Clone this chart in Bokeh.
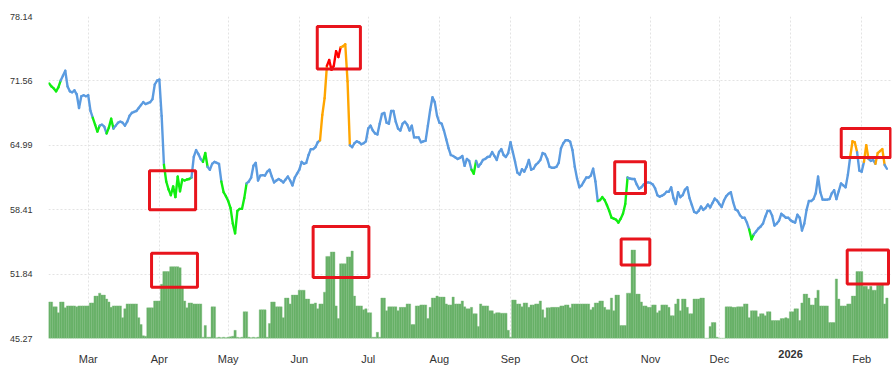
import pandas as pd
from bokeh.plotting import figure
from bokeh.models import Range1d, FixedTicker, Label, PrintfTickFormatter
from bokeh.embed import file_html
from bokeh.resources import INLINE

# ---------------- data ----------------
start_date = "2025-02-12"

price = [
    71.3, 71.0, 70.8, 70.5, 70.9, 71.6, 72.1, 72.6, 71.0, 70.5,
    70.4, 70.6, 70.2, 68.8, 70.0, 70.1, 70.0, 70.1, 68.5, 67.8,
    67.1, 66.4, 67.0, 67.1, 66.9, 66.2, 66.8, 67.7, 66.7, 67.0,
    67.3, 67.4, 67.3, 67.0, 67.4, 68.0, 68.3, 68.4, 68.5, 68.8,
    69.1, 69.4, 69.2, 69.3, 69.4, 69.7, 71.2, 71.6, 71.7, 68.0,
    63.0, 61.3, 60.5, 59.9, 60.8, 59.7, 61.8, 60.3, 61.5, 61.4,
    61.5, 61.55, 61.7, 63.8, 64.5, 64.1, 63.6, 63.3, 64.2, 62.8,
    62.5, 63.1, 63.3, 63.2, 63.1, 61.3, 60.2, 59.8, 59.3, 58.6,
    57.0, 56.0, 58.3, 58.5, 58.5, 59.6, 61.1, 61.3, 61.7, 62.9,
    63.2, 61.4, 61.9, 61.95, 61.9, 62.3, 62.5, 61.8, 61.2, 61.4,
    61.55, 61.4, 61.2, 61.5, 61.8, 61.4, 60.9, 61.7, 62.1, 62.5,
    63.3, 63.1, 63.2, 64.0, 64.6, 64.6, 64.8, 65.3, 65.5, 68.1,
    69.8, 73.1, 73.7, 72.7, 73.1, 74.6, 74.0, 75.0, 75.1, 75.3,
    71.5, 65.0, 64.8, 65.2, 65.4, 65.3, 65.1, 65.2, 65.4, 66.7,
    67.0, 66.5, 66.2, 66.1, 67.2, 68.2, 68.3, 67.3, 67.2, 68.5,
    68.5, 67.4, 66.7, 66.5, 67.2, 67.4, 67.1, 66.5, 67.0, 65.8,
    65.8, 65.8, 65.3, 65.4, 65.45, 67.0, 68.6, 69.9, 69.4, 68.0,
    67.3, 67.2, 66.5, 65.6, 64.7, 64.0, 63.9, 63.75, 63.6, 63.7,
    63.9, 62.9, 63.6, 63.4, 62.5, 62.1, 63.4, 62.8, 63.1, 63.5,
    63.6, 63.8, 63.85, 64.3, 63.9, 63.5, 64.3, 64.6, 64.0, 63.8,
    64.2, 65.3, 64.3, 63.3, 62.2, 62.0, 62.55, 62.3, 62.8, 63.5,
    62.5, 62.6, 63.0, 63.2, 63.5, 64.2, 64.1, 63.6, 62.8, 62.7,
    62.7, 62.8, 63.2, 64.7, 65.2, 65.5, 65.5, 65.35, 64.5, 62.8,
    61.6, 60.7, 60.9, 61.3, 61.7, 61.7, 61.9, 62.6, 61.3, 59.3,
    59.4, 59.7, 59.4, 58.9, 58.3, 57.6, 57.5, 57.4, 57.1, 57.5,
    58.0, 59.0, 61.7, 61.6, 61.55, 61.55, 61.0, 60.55, 60.7, 61.0,
    61.15, 61.2, 61.15, 61.0, 60.6, 59.9, 59.75, 59.85, 60.0, 60.25,
    60.25, 60.7, 59.6, 59.0, 60.2, 59.7, 59.9, 60.45, 60.7, 59.6,
    58.9, 58.2, 58.08, 58.3, 58.75, 58.4, 58.6, 58.95, 58.65, 59.1,
    59.55, 59.35, 59.0, 58.7, 59.35, 59.8, 60.05, 60.2, 59.2, 58.45,
    58.3, 57.85, 57.6, 57.6, 57.1, 56.4, 55.4, 55.9, 56.2, 56.5,
    56.7, 57.0, 57.7, 58.3, 58.3, 57.8, 56.8, 57.0, 57.3, 58.0,
    57.8, 57.6, 57.6, 57.35, 57.2, 57.1, 57.9, 57.6, 56.3, 57.0,
    58.4, 59.3, 59.3, 59.5, 60.1, 61.8, 60.2, 59.45, 59.43, 59.45,
    59.5, 60.1, 60.4, 59.5, 60.3, 61.1, 60.9, 60.7, 62.0, 63.8,
    65.4, 65.3, 64.3, 62.4, 62.3, 63.3, 65.0, 63.6, 63.4, 63.5,
    63.1, 64.2, 64.4, 64.6, 63.0, 62.6,
]

volume_top = [
    49.0, 49.0, 48.5, 48.5, 47.9, 49.0, 49.0, 48.4, 48.6, 48.6,
    48.6, 48.6, 48.5, 48.6, 48.6, 48.6, 48.6, 48.6, 48.9, 48.9,
    49.6, 49.6, 49.9, 49.7, 49.7, 49.3, 49.0, 48.45, 48.6, 48.6,
    48.6, 48.6, 47.4, 48.3, 48.8, 48.8, 48.8, 48.8, 48.8, 47.4,
    46.7, 45.55, 45.5, 48.4, 48.4, 48.4, 49.1, 49.1, 49.1, 50.8,
    52.1, 52.1, 52.1, 52.6, 52.6, 52.6, 52.6, 52.5, 50.6, 49.1,
    48.4, 48.9, 48.9, 48.8, 48.8, 48.8, 48.8, 45.4, 46.6, 45.4,
    45.4, 48.5, 48.5, 45.35, 45.4, 45.35, 45.4, 45.35, 45.4, 45.45,
    45.5, 46.1, 45.4, 45.35, 45.4, 48.0, 48.0, 45.4, 45.35, 45.4,
    45.35, 45.4, 48.2, 48.2, 48.2, 45.4, 46.8, 49.0, 49.0, 48.5,
    48.5, 48.5, 47.4, 49.4, 49.4, 48.8, 49.7, 49.7, 49.7, 50.2,
    50.2, 50.2, 49.3, 49.3, 48.8, 48.8, 48.9, 48.3, 48.8, 48.8,
    50.0, 53.65, 53.65, 54.1, 54.1, 48.6, 47.3, 52.9, 52.9, 52.9,
    53.6, 53.6, 54.2, 49.6, 48.6, 48.6, 48.6, 48.2, 48.3, 47.9,
    47.9, 45.4, 45.4, 45.9, 45.4, 49.4, 49.4, 48.1, 48.5, 48.5,
    48.5, 48.5, 48.1, 48.45, 48.45, 48.45, 48.8, 48.8, 46.7, 46.7,
    48.6, 48.6, 48.7, 48.7, 48.7, 47.3, 48.45, 49.4, 49.4, 49.6,
    49.5, 49.5, 49.5, 48.8, 48.7, 48.7, 49.5, 48.8, 48.8, 48.8,
    49.1, 48.5, 48.3, 48.3, 48.45, 47.8, 47.8, 46.5, 48.8, 48.6,
    48.6, 48.6, 48.1, 48.1, 47.8, 47.9, 47.9, 47.85, 47.85, 47.85,
    46.1, 45.4, 49.2, 49.2, 48.8, 48.8, 48.5, 48.9, 48.9, 48.45,
    48.7, 48.7, 48.8, 48.8, 49.1, 48.2, 47.4, 48.4, 48.4, 48.45,
    48.45, 48.45, 48.45, 48.6, 48.6, 48.7, 48.7, 48.4, 48.8, 48.8,
    48.8, 48.8, 48.8, 48.8, 48.8, 48.8, 48.2, 48.45, 48.9, 48.9,
    49.1, 49.1, 48.45, 48.2, 48.2, 49.4, 48.1, 49.7, 49.7, 46.6,
    46.6, 46.6, 49.9, 49.9, 54.3, 54.3, 49.8, 49.8, 49.0, 48.6,
    48.6, 48.45, 48.45, 48.7, 48.7, 47.9, 48.1, 48.7, 48.7, 48.7,
    48.45, 47.6, 47.6, 48.8, 49.3, 48.1, 49.3, 49.3, 48.45, 47.8,
    47.8, 49.3, 49.3, 49.3, 49.4, 49.4, 45.3, 45.3, 46.5, 46.9,
    46.9, 45.4, 45.3, 45.3, 45.3, 48.5, 48.5, 48.5, 48.45, 48.45,
    48.5, 48.5, 48.5, 48.8, 48.8, 47.4, 48.1, 48.1, 48.1, 47.5,
    47.8, 47.8, 47.6, 48.0, 48.0, 47.1, 47.1, 47.1, 47.1, 47.3,
    47.3, 47.4, 47.3, 48.0, 48.0, 48.3, 48.3, 47.1, 48.9, 49.8,
    49.8, 49.4, 48.7, 48.7, 49.4, 50.2, 48.6, 48.6, 48.6, 48.6,
    46.9, 46.9, 46.9, 51.35, 49.3, 48.6, 48.6, 48.6, 48.8, 48.8,
    49.6, 49.6, 52.1, 52.1, 52.1, 50.6, 50.6, 50.3, 50.6, 50.2,
    50.2, 50.7, 50.7, 50.8, 48.8, 49.4,
]

# day-index ranges (inclusive) of the coloured line states
green_ranges = [(0, 4), (20, 21), (26, 27), (51, 61), (68, 68), (76, 85),
                (185, 185), (240, 251), (306, 306)]
orange_ranges = [(119, 120), (127, 130), (350, 351), (356, 356), (361, 363)]
red_ranges = [(121, 126)]

# highlight boxes: day offsets from start and value bounds
box_from_day = [43.7, 44.6, 116.8, 115.0, 246.4, 249.2, 345.1, 347.7]
box_to_day = [63.8, 64.6, 135.6, 139.3, 259.8, 261.7, 366.6, 365.7]
box_low = [58.42, 50.49, 72.77, 51.50, 60.08, 52.77, 63.75, 50.83]
box_high = [62.40, 53.96, 77.12, 56.71, 63.31, 55.43, 66.71, 54.30]

y_ticks = [45.27, 51.84, 58.41, 64.99, 71.56, 78.14]
month_labels = ["Mar", "Apr", "May", "Jun", "Jul", "Aug", "Sep", "Oct",
                "Nov", "Dec", "2026", "Feb"]
bold_label = "2026"

# ---------------- derived ----------------
DAY = 86400000.0
EPOCH = pd.Timestamp("1970-01-01")
dates = pd.date_range(start_date, periods=len(price), freq="D")
xms = [(d - EPOCH).total_seconds() * 1000.0 for d in dates]
t0ms = xms[0]

state = [0] * len(price)
for rngs, s in ((green_ranges, 1), (orange_ranges, 2), (red_ranges, 3)):
    for a, b in rngs:
        for i in range(a, b + 1):
            state[i] = s
palette = {0: "#5b9be0", 1: "#11ee11", 2: "#ffa500", 3: "#ff0000"}
seg_col = []
for i in range(len(price) - 1):
    s = state[i] if state[i] != 0 else state[i + 1]
    seg_col.append(palette[s])

month_starts = pd.date_range("2025-03-01", periods=len(month_labels), freq="MS")
month_ms = [(m - EPOCH).total_seconds() * 1000.0 for m in month_starts]

p = figure(
    x_axis_type="datetime",
    frame_width=843, frame_height=322,
    min_border_left=48, min_border_right=1, min_border_top=16, min_border_bottom=22,
    x_range=Range1d(t0ms - 0.3 * DAY, t0ms + 367.0 * DAY),
    y_range=Range1d(y_ticks[0], y_ticks[-1]),
    output_backend="svg", toolbar_location=None,
)
p.outline_line_color = None
p.background_fill_color = "white"
p.border_fill_color = "white"

# volume bars
p.vbar(x=xms, top=volume_top, bottom=y_ticks[0], width=DAY,
       fill_color="#66b066", line_color="#7cbc7c", line_width=0.4)

# price line, coloured by state
p.segment(x0=xms[:-1], y0=price[:-1], x1=xms[1:], y1=price[1:],
          line_color=seg_col, line_width=2.4, line_cap="round")

# highlight boxes
p.quad(left=[t0ms + d * DAY for d in box_from_day],
       right=[t0ms + d * DAY for d in box_to_day],
       bottom=box_low, top=box_high,
       fill_alpha=0, line_color="#e8141c", line_width=3)

# axes
p.yaxis.ticker = FixedTicker(ticks=y_ticks)
p.yaxis.formatter = PrintfTickFormatter(format="%.2f")
p.yaxis.axis_line_color = None
p.yaxis.major_tick_line_color = None
p.yaxis.minor_tick_line_color = None
p.yaxis.major_label_standoff = 10
p.yaxis.major_label_text_font = "Liberation Sans"
p.yaxis.major_label_text_font_size = "9px"
p.yaxis.major_label_text_color = "#333333"

p.xaxis.ticker = FixedTicker(ticks=month_ms)
p.xaxis.major_label_overrides = {
    m: ("" if lab == bold_label else lab) for m, lab in zip(month_ms, month_labels)
}
p.xaxis.axis_line_color = None
p.xaxis.major_tick_line_color = None
p.xaxis.minor_tick_line_color = None
p.xaxis.major_label_standoff = 8
p.xaxis.major_label_text_font = "Liberation Sans"
p.xaxis.major_label_text_font_size = "11px"
p.xaxis.major_label_text_color = "#333333"

# bold year label (placed in a side panel so it is not clipped to the frame)
for m, lab in zip(month_ms, month_labels):
    if lab == bold_label:
        p.add_layout(Label(x=m, y=y_ticks[0], y_offset=-15, text=lab,
                           text_align="center", text_baseline="middle",
                           text_font="Liberation Sans", text_font_size="11px",
                           text_font_style="bold", text_color="#333333"), "above")

p.grid.grid_line_color = "#e3e3e3"
p.grid.grid_line_dash = "2 2"
p.grid.grid_line_width = 1

open("out.html", "w").write(file_html(p, INLINE))
